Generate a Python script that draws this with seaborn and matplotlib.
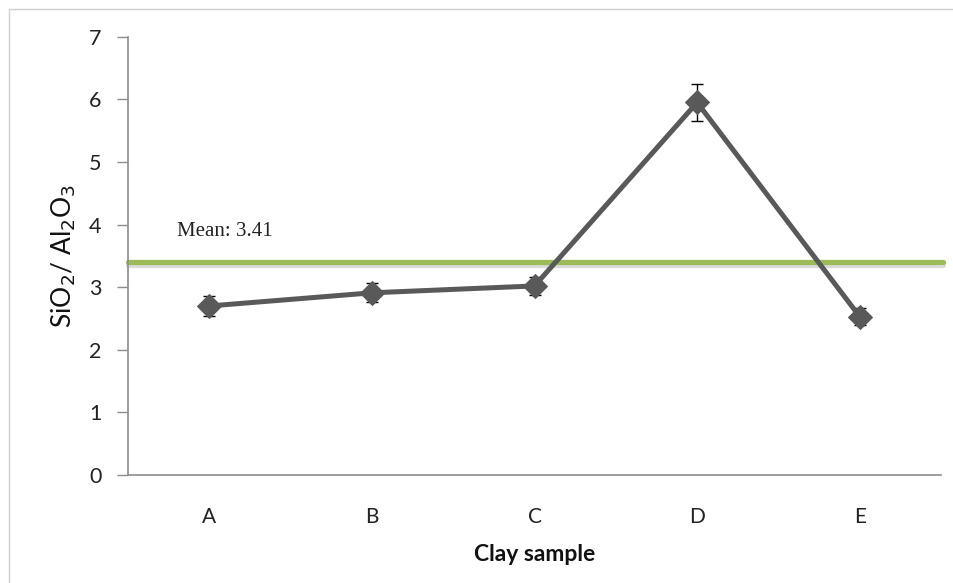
import matplotlib
matplotlib.use("Agg")
import matplotlib.pyplot as plt
import matplotlib.patheffects as pe
from matplotlib.patches import Rectangle
import seaborn as sns
import pandas as pd

# Silica/alumina ratio per clay sample
samples = ["A", "B", "C", "D", "E"]
ratio = [2.70, 2.91, 3.02, 5.95, 2.53]
ratio_err = [0.16, 0.15, 0.15, 0.29, 0.13]
mean_ratio = 3.41
y_ticks = [0, 1, 2, 3, 4, 5, 6, 7]

sns.set_theme(style="white")
plt.rcParams["font.family"] = ["Lato", "DejaVu Sans"]

df = pd.DataFrame({"sample": samples, "ratio": ratio, "err": ratio_err})

fig = plt.figure(figsize=(9.54, 5.83), dpi=100)
ax = fig.add_axes([0.1342, 0.1852, 0.8522, 0.7518])

# outer chart frame
fig.patches.append(Rectangle((9 / 954, -0.1), 1.2, 1 - 9 / 583 + 0.1,
                             transform=fig.transFigure, fill=False,
                             edgecolor="#d0d0d0", linewidth=1.0, zorder=0))

# mean reference line with soft shadow
ax.axhline(mean_ratio, xmin=0, xmax=1.003, color="#9bbb59", linewidth=3.8,
           zorder=2, clip_on=False,
           path_effects=[pe.SimpleLineShadow(offset=(0, -2.5), shadow_color="#999999", alpha=0.35),
                         pe.Normal()])
ax.text(-0.2, mean_ratio + 0.32, f"Mean: {mean_ratio}", fontsize=15,
        family=["Liberation Serif", "DejaVu Serif"], color="#222222",
        ha="left", va="bottom")

ax.errorbar(range(len(samples)), df["ratio"], yerr=df["err"], fmt="none",
            ecolor="black", elinewidth=1.0, capsize=4.5, capthick=1.0, zorder=3)
sns.lineplot(data=df, x="sample", y="ratio", ax=ax, color="#595959",
             linewidth=3.6, marker="D", markersize=12, markeredgecolor="#595959",
             zorder=4, sort=False)

ax.set_xlim(-0.5, len(samples) - 0.5)
ax.set_ylim(0, 7)
ax.set_yticks(y_ticks)
ax.set_yticklabels([str(t) for t in y_ticks])

for side in ("top", "right"):
    ax.spines[side].set_visible(False)
for side in ("left", "bottom"):
    ax.spines[side].set_color("#8c8c8c")
    ax.spines[side].set_linewidth(1.2)

ax.tick_params(axis="y", which="both", left=True, length=8, width=1.0,
               color="#8c8c8c", labelsize=15.5, pad=11, labelcolor="#222222")
ax.tick_params(axis="x", bottom=False, labelsize=15, pad=17, labelcolor="#222222")

ax.set_xlabel("Clay sample", fontsize=16.5, fontweight="bold", labelpad=12, color="#111111")
ax.set_ylabel(r"SiO$_2$/ Al$_2$O$_3$", fontsize=19, labelpad=8, color="#111111")
ax.grid(False)

fig.savefig("out.png", dpi=100)
